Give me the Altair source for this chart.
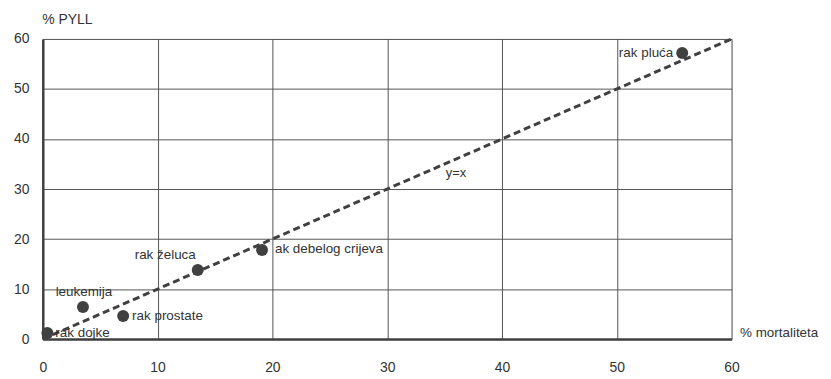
import altair as alt
import pandas as pd

# data
names = ["rak dojke", "leukemija", "rak prostate", "rak želuca", "ak debelog crijeva", "rak pluća"]
mort = [0.4, 3.5, 7.0, 13.5, 19.1, 55.7]
pyll = [1.2, 6.4, 4.6, 13.8, 17.8, 57.2]
diag_x = [0, 60]
diag_y = [0, 60]
diag_label = ["y=x"]
diag_label_x = [36.0]
diag_label_y = [33.2]

# label placement (style)
placement = {
    "rak dojke": dict(align="left", dx=8, dy=0),
    "leukemija": dict(align="center", dx=1, dy=-15),
    "rak prostate": dict(align="left", dx=9, dy=0),
    "rak želuca": dict(align="right", dx=-2, dy=-15),
    "ak debelog crijeva": dict(align="left", dx=13, dy=-1),
    "rak pluća": dict(align="right", dx=-9, dy=0),
}

df = pd.DataFrame({"name": names, "x": mort, "y": pyll})
dline = pd.DataFrame({"x": diag_x, "y": diag_y})
dlab = pd.DataFrame({"t": diag_label, "x": diag_label_x, "y": diag_label_y})

FONT = "Liberation Sans"
DARK = "#404040"
TXT = "#333333"

xs = alt.Scale(domain=[0, 60], nice=False)
ys = alt.Scale(domain=[0, 60], nice=False)

xaxis = alt.Axis(values=[0, 10, 20, 30, 40, 50, 60], ticks=False, labelPadding=22,
                 labelFontSize=14, labelColor=TXT, labelFont=FONT, labelFlush=False,
                 domainColor=DARK, domainWidth=2.5,
                 gridColor="#555555", gridWidth=1, grid=True,
                 title="% mortaliteta", titleAngle=0, titleX=701, titleY=-7,
                 titleAlign="left", titleBaseline="middle", titleFontWeight="normal",
                 titleFontSize=13.5, titleColor=TXT, titleFont=FONT)
yaxis = alt.Axis(values=[0, 10, 20, 30, 40, 50, 60], ticks=False, labelPadding=14,
                 labelFontSize=14, labelColor=TXT, labelFont=FONT, labelFlush=False,
                 domainColor=DARK, domainWidth=2.5,
                 gridColor="#555555", gridWidth=1, grid=True,
                 title="% PYLL", titleAngle=0, titleX=-1, titleY=-20,
                 titleAlign="left", titleBaseline="middle", titleFontWeight="normal",
                 titleFontSize=14, titleColor=TXT, titleFont=FONT)

base_line = alt.Chart(dline).mark_line(color=DARK, strokeWidth=3, strokeDash=[7, 4]).encode(
    x=alt.X("x:Q", scale=xs, axis=xaxis),
    y=alt.Y("y:Q", scale=ys, axis=yaxis),
)

pts = alt.Chart(df).mark_circle(size=145, color=DARK, opacity=1).encode(
    x=alt.X("x:Q", scale=xs), y=alt.Y("y:Q", scale=ys)
)

layers = [base_line, pts]
for n in names:
    p = placement[n]
    layers.append(
        alt.Chart(df).transform_filter(alt.datum.name == n).mark_text(
            align=p["align"], baseline="middle", dx=p["dx"], dy=p["dy"],
            fontSize=13.5, font=FONT, color=TXT
        ).encode(x=alt.X("x:Q", scale=xs), y=alt.Y("y:Q", scale=ys), text="name:N")
    )

layers.append(
    alt.Chart(dlab).mark_text(fontSize=13, font=FONT, color=TXT, baseline="middle").encode(
        x=alt.X("x:Q", scale=xs), y=alt.Y("y:Q", scale=ys), text="t:N"
    )
)

chart = alt.layer(*layers).properties(
    width=693, height=302,
    autosize=alt.AutoSizeParams(type="none"),
    padding={"left": 35, "top": 30, "right": 92, "bottom": 39},
).configure_view(stroke="#555555", strokeWidth=1).configure(background="white")

chart.save("out.html", embed_options={"renderer": "svg", "actions": False})
